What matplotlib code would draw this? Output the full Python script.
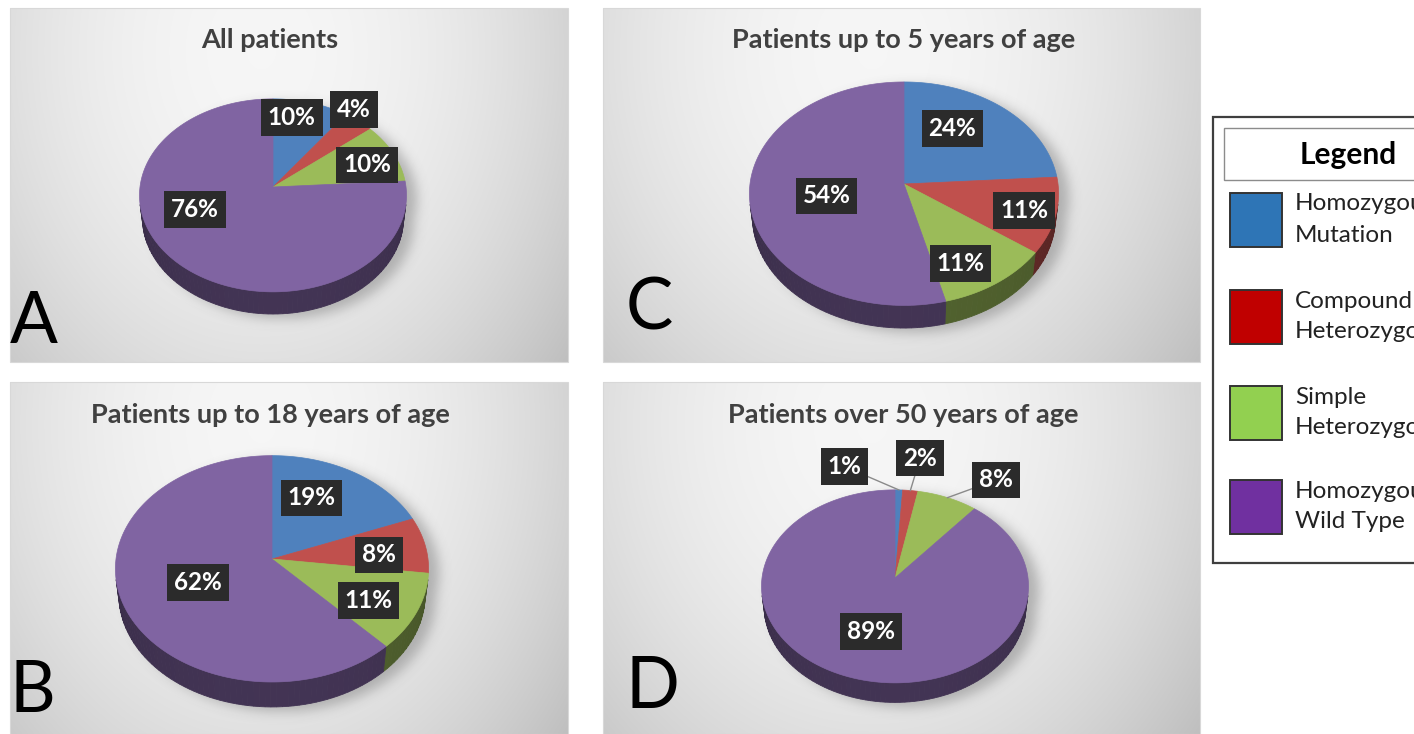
import numpy as np
import matplotlib
matplotlib.use("Agg")
import matplotlib.pyplot as plt
from matplotlib.patches import Polygon, Rectangle
from matplotlib.path import Path
from matplotlib.colors import to_rgb

# ---------------------------------------------------------------- data
categories = ["Homozygous Mutation", "Compound Heterozygous",
              "Simple Heterozygous", "Homozygous Wild Type"]
legend_line1 = ["Homozygous", "Compound", "Simple", "Homozygous"]
legend_line2 = ["Mutation", "Heterozygous", "Heterozygous", "Wild Type"]

panel_titles = ["All patients", "Patients up to 18 years of age",
                "Patients up to 5 years of age", "Patients over 50 years of age"]
panel_letters = ["A", "B", "C", "D"]

share_all = [10, 4, 10, 76]
share_upto18 = [19, 8, 11, 62]
share_upto5 = [24, 11, 11, 54]
share_over50 = [1, 2, 8, 89]

# ---------------------------------------------------------------- style
top_colors = ["#4f81bd", "#c0504d", "#9bbb59", "#8064a2"]
legend_colors = ["#2e75b6", "#c00000", "#92d050", "#7030a0"]
FONT = "Lato"

W, H = 1414, 734
fig = plt.figure(figsize=(W / 100, H / 100), dpi=100)
ax = fig.add_axes([0, 0, 1, 1])
ax.set_xlim(0, W)
ax.set_ylim(H, 0)
ax.axis("off")

SIN_A = 0.72          # tilt of the pie plane
COS_A = np.sqrt(1 - SIN_A ** 2)
DIST = 8.0            # camera distance (in pie radii)


def project(cx, cy, R, phi_deg, r, z):
    """3-D pie point (angle clockwise from 12 o'clock, radius, height) -> pixels."""
    phi = np.radians(phi_deg)
    X = r * np.sin(phi)
    Y = r * np.cos(phi)
    u = Y * SIN_A + z * COS_A
    depth = DIST + Y * COS_A - z * SIN_A
    p = DIST / depth
    return cx + R * X * p, cy - R * u * p


def background(x0, y0, x1, y1):
    w, h = x1 - x0, y1 - y0
    yy, xx = np.mgrid[0:h, 0:w]
    u = xx / w
    v = yy / h
    d2 = ((u - 0.45) / 0.62) ** 2 + ((v - 0.12) / 1.25) ** 2
    val = np.clip(0.965 - 0.17 * d2, 0.74, 1.0)
    img = np.dstack([val, val, val])
    ax.imshow(img, extent=(x0, x1, y1, y0), zorder=0, interpolation="bilinear")
    ax.add_patch(Rectangle((x0, y0), w, h, fill=False, ec="#d8d8d8", lw=0.8, zorder=0.5))


def blur1d(a, sigma, axis):
    k = np.arange(-3 * sigma, 3 * sigma + 1)
    g = np.exp(-0.5 * (k / sigma) ** 2)
    g /= g.sum()
    return np.apply_along_axis(lambda m: np.convolve(m, g, mode="same"), axis, a)


def pie_shadow(cx, cy, R, h, rect):
    x0, y0, x1, y1 = rect
    ang = np.linspace(0, 360, 181)
    bx, by = project(cx, cy, R, ang, 1.0, -h)
    tx, ty = project(cx, cy, R, ang, 1.0, 0.0)
    yy, xx = np.mgrid[y0:y1, x0:x1]
    pts = np.column_stack([xx.ravel(), yy.ravel()])
    m1 = Path(np.column_stack([bx + 10, by + 4])).contains_points(pts)
    m2 = Path(np.column_stack([tx + 10, ty + 4])).contains_points(pts)
    mask = (m1 | m2).reshape(xx.shape).astype(float)
    mask = blur1d(blur1d(mask, 6, 0), 6, 1)
    rgba = np.zeros(mask.shape + (4,))
    rgba[..., :3] = 0.35
    rgba[..., 3] = mask * 0.38
    ax.imshow(rgba, extent=(x0, x1, y1, y0), zorder=1, interpolation="bilinear")


def draw_pie(values, cx, cy, R, h):
    vals = np.asarray(values, float)
    edges = np.concatenate([[0], np.cumsum(vals) / vals.sum() * 360])
    lim = np.degrees(np.arccos(-1 / (DIST * COS_A)))
    # outer wall (front part only)
    for i in range(len(vals)):
        a, b = max(edges[i], lim), min(edges[i + 1], 360 - lim)
        if b <= a:
            continue
        segs = np.linspace(a, b, max(2, int((b - a) / 2) + 2))
        base = np.array(to_rgb(top_colors[i]))
        for s0, s1 in zip(segs[:-1], segs[1:]):
            arc = np.linspace(s0, s1, 4)
            txy = project(cx, cy, R, arc, 1.0, 0.0)
            bxy = project(cx, cy, R, arc[::-1], 1.0, -h)
            mid = np.radians(0.5 * (s0 + s1))
            f = 0.44 + 0.08 * (-np.cos(mid))
            col = np.clip(base * f, 0, 1)
            poly = np.column_stack([np.concatenate([txy[0], bxy[0]]),
                                    np.concatenate([txy[1], bxy[1]])])
            ax.add_patch(Polygon(poly, closed=True, fc=col, ec=col, lw=0.6, zorder=2))
    # top face
    for i in range(len(vals)):
        arc = np.linspace(edges[i], edges[i + 1], max(3, int(vals[i] * 3)))
        px, py = project(cx, cy, R, arc, 1.0, 0.0)
        poly = np.column_stack([np.concatenate([[cx], px]), np.concatenate([[cy], py])])
        ax.add_patch(Polygon(poly, closed=True, fc=top_colors[i], ec=top_colors[i],
                             lw=0.5, zorder=3))
    return edges


panels = [
    dict(values=share_all, rect=(10, 8, 568, 362), apex=(273, 187), R=133, h=0.25,
         title_xy=(270, 40), letter_xy=(10, 343),
         label_pos=[(11, 0.79), (37, 1.09), (72, 0.76), (248, 0.62)], leaders=False),
    dict(values=share_upto18, rect=(10, 382, 568, 734), apex=(272, 559), R=156, h=0.24,
         title_xy=(270, 415), letter_xy=(10, 712),
         label_pos=[(25, 0.63), (87, 0.69), (121, 0.70), (246, 0.51)], leaders=False),
    dict(values=share_upto5, rect=(603, 8, 1200, 362), apex=(904, 184), R=154, h=0.22,
         title_xy=(904, 40), letter_xy=(626, 330),
         label_pos=[(32, 0.62), (107, 0.80), (153, 0.76), (258, 0.51)], leaders=False),
    dict(values=share_over50, rect=(603, 382, 1200, 734), apex=(895, 578), R=133, h=0.22,
         title_xy=(903, 415), letter_xy=(625, 708),
         label_pos=[(-18, 1.36), (8.6, 1.42), (36.6, 1.40), (198, 0.56)], leaders=True),
]
panel_order = [0, 1, 2, 3]   # A, B, C, D

for k, pnl in zip(panel_order, panels):
    background(*pnl["rect"])
    cx, cy = pnl["apex"]
    pie_shadow(cx, cy, pnl["R"], pnl["h"], pnl["rect"])
    edges = draw_pie(pnl["values"], cx, cy, pnl["R"], pnl["h"])
    ax.text(*pnl["title_xy"], panel_titles[k], ha="center", va="center",
            fontsize=19.5, fontweight="bold", color="#404040", family=FONT, zorder=6)
    ax.text(*pnl["letter_xy"], panel_letters[k], ha="left", va="baseline",
            fontsize=51, color="black", family=FONT, zorder=6)
    for i, v in enumerate(pnl["values"]):
        ang, rad = pnl["label_pos"][i]
        lx, ly = project(cx, cy, pnl["R"], ang, rad, 0.0)
        if pnl["leaders"] and rad > 1:
            mid = 0.5 * (edges[i] + edges[i + 1])
            ex, ey = project(cx, cy, pnl["R"], mid, 1.0, 0.0)
            ax.plot([lx, ex], [ly, ey], color="#8a8a8a", lw=1.0, zorder=4)
        ax.text(lx, ly, f"{v}%", ha="center", va="center", fontsize=17.5,
                fontweight="bold", color="white", family=FONT, zorder=5,
                bbox=dict(boxstyle="square,pad=0.28", fc="#2b2b2b", ec="none"))

# ---------------------------------------------------------------- legend
ax.add_patch(Rectangle((1213, 117), 260, 446, fc="white", ec="#3f3f3f", lw=1.6, zorder=2))
ax.add_patch(Rectangle((1224, 128), 250, 52, fc="white", ec="#8c8c8c", lw=1.0, zorder=3))
ax.text(1348, 155, "Legend", ha="center", va="center", fontsize=21.5,
        fontweight="bold", color="black", family=FONT, zorder=4)
patch_tops = [193, 290, 386, 480]
for i in range(len(categories)):
    y0 = patch_tops[i]
    ax.add_patch(Rectangle((1230, y0), 52, 54, fc=legend_colors[i], ec="#333333",
                           lw=1.4, zorder=3))
    ax.text(1295, y0 + 11, legend_line1[i], ha="left", va="center", fontsize=17.5,
            color="#222222", family=FONT, zorder=4)
    ax.text(1295, y0 + 42, legend_line2[i], ha="left", va="center", fontsize=17.5,
            color="#222222", family=FONT, zorder=4)

fig.savefig("out.png", dpi=100, facecolor="white")
